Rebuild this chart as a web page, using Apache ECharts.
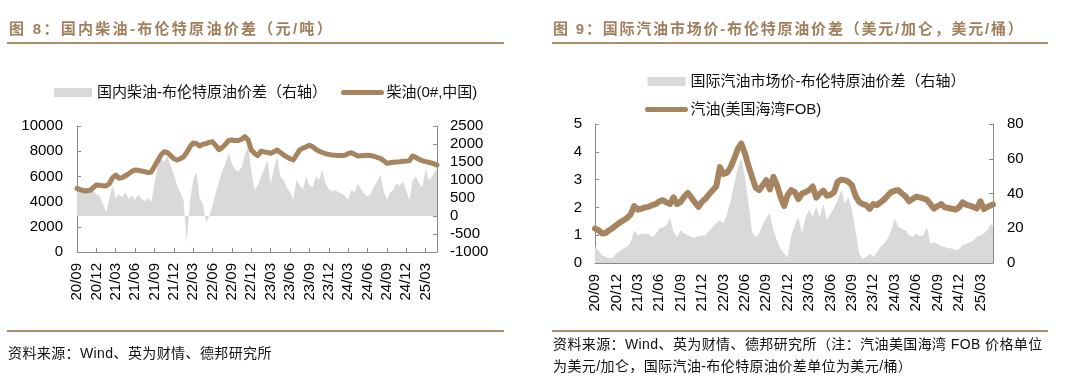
<!DOCTYPE html>
<html><head><meta charset="utf-8">
<script src="https://cdn.jsdelivr.net/npm/echarts@6.0.0/dist/echarts.min.js"></script>
<style>
html,body{margin:0;padding:0;background:#fff;width:1080px;height:382px;overflow:hidden}
#chart{position:absolute;left:0;top:0;width:1080px;height:382px}
.t{position:absolute;font-family:'Liberation Sans','Noto Sans CJK SC',sans-serif;white-space:nowrap}
.title{font-size:15px;font-weight:bold;color:#a07f5c;line-height:18px}
.rule{position:absolute;height:2px;background:#aa8d6d}
.src{font-size:14px;color:#111;letter-spacing:0.4px;line-height:22px}
</style></head>
<body>
<div id="chart"></div>
<div class="t title" style="left:9px;top:20px;letter-spacing:2.3px">图 8：国内柴油-布伦特原油价差（元/吨）</div>
<div class="rule" style="left:7px;top:42px;width:497px"></div>
<div class="t title" style="left:553px;top:20px;letter-spacing:1.8px">图 9：国际汽油市场价-布伦特原油价差（美元/加仑，美元/桶）</div>
<div class="rule" style="left:552px;top:42px;width:496px"></div>
<div class="rule" style="left:7px;top:330px;width:497px"></div>
<div class="rule" style="left:552px;top:330px;width:496px"></div>
<div class="t src" style="left:8px;top:342px">资料来源：Wind、英为财情、德邦研究所</div>
<div class="t src" style="left:553px;top:333px">资料来源：Wind、英为财情、德邦研究所（注：汽油美国海湾 FOB 价格单位<br>为美元/加仑，国际汽油-布伦特原油价差单位为美元/桶）</div>
<script>
// ---- dates: semi-monthly observations from 2020-09-01, last on 2025-04-24
const dates = [];
for (let i = 0; i < 112; i++) {
  const mi = 8 + Math.floor(i / 2);
  const y = 2020 + Math.floor(mi / 12), m = (mi % 12) + 1;
  dates.push(y + '-' + String(m).padStart(2, '0') + '-' + (i % 2 ? '16' : '01'));
}
dates.push('2025-04-24');

// ---- 图8: 柴油(0#,中国) 元/吨 (left axis)
const dieselCN = [5050,4950,4880,4840,4900,5100,5320,5300,5250,5240,
5400,5900,6100,5850,5900,6050,6200,6400,6510,6480,
6430,6380,6300,6350,6800,7250,7700,7960,7900,7650,
7400,7300,7400,7550,7900,8360,8650,8600,8420,8550,
8600,8700,8750,8450,8120,8300,8550,8850,8890,8840,
8850,8950,9150,8900,8100,7830,7650,8000,7950,7900,
7830,7950,8100,7900,7700,7550,7400,7300,7700,8100,
8250,8350,8480,8350,8150,8000,7900,7800,7750,7700,
7680,7650,7650,7680,7800,7880,7750,7620,7640,7660,
7670,7650,7600,7500,7430,7250,7050,7080,7120,7150,
7170,7200,7210,7250,7620,7500,7350,7250,7170,7120,
7050,6950,6900];
// ---- 图8: 国内柴油-布伦特原油价差 元/吨 (right axis)
const spreadCN = [650,750,700,780,650,720,600,560,350,120,
450,850,500,600,520,650,480,560,450,600,
480,420,500,380,900,1400,1600,1500,1650,1400,
1150,850,650,450,-750,400,1000,1230,500,350,
-200,0,300,650,950,1250,1450,1750,1450,1300,
1230,1350,1700,1950,1250,720,850,1100,1300,1550,
900,1300,1650,1100,1000,800,650,480,1000,850,
750,1100,850,800,1100,1000,1280,900,750,680,
720,650,630,550,450,720,650,900,750,620,
540,600,820,950,1140,700,450,650,720,900,
850,950,700,450,1000,1100,900,800,1320,1000,
1100,1250,1320];
// ---- 图9: 汽油(美国海湾FOB) 美元/加仑 (left axis)
const gasUS = [1.24,1.18,1.06,1.08,1.18,1.26,1.36,1.46,1.54,1.62,
1.75,2.05,1.92,1.95,2.00,2.02,2.08,2.12,2.22,2.26,
2.18,2.12,2.36,2.12,2.20,2.38,2.52,2.36,2.18,2.02,
2.20,2.32,2.48,2.62,2.76,3.45,3.20,3.25,3.45,3.75,
4.10,4.30,3.95,3.50,3.10,2.72,2.62,2.80,2.98,2.65,
3.10,2.80,2.38,2.05,2.45,2.62,2.55,2.30,2.50,2.55,
2.62,2.75,2.35,2.50,2.60,2.42,2.45,2.55,2.92,3.00,
2.98,2.92,2.80,2.42,2.20,2.12,2.08,1.95,2.12,2.08,
2.18,2.28,2.42,2.55,2.60,2.62,2.50,2.40,2.22,2.30,
2.38,2.36,2.32,2.28,2.12,1.96,2.05,2.12,2.00,1.98,
1.95,1.92,2.00,2.18,2.10,2.06,2.02,1.96,2.22,1.94,
2.02,2.08,2.10];
// ---- 图9: 国际汽油市场价-布伦特原油价差 美元/桶 (right axis)
const spreadGas = [9.5,7,4.4,3.5,2.8,3.2,5.4,7,8.3,9.5,
12,18.8,16,17,16.5,17,15,16.5,19.8,20.5,
21.7,26,18,15,18.8,17,16,15,14.5,15.4,
15.8,16,18.5,20.8,23,24.6,22.7,28,36,45,
55,60,50,35,18,15,17,22,26,28.5,
18.8,13,8,5.4,3.5,16,22,26.5,17,26,
30.4,26.5,32.3,26.5,34.2,24.6,28,32,36.2,42,
34.2,38,30.4,18.8,5.4,2.5,3.5,5.4,3.5,6,
9.2,11.2,14,18.8,25.6,20.8,19.5,18.8,16,15,
17,15.5,16,20.8,11.2,12,11,9.8,9.2,8.5,
8.3,7.3,8,10.2,11,12,13,15,16,17,
19,22.7,20.8];

const yLeft1 = {min:0, max:10000, interval:2000};
const yRight1 = {min:-1000, max:2500, interval:500};
const yLeft2 = {min:0, max:5, interval:1};
const yRight2 = {min:0, max:80, interval:20};

const names = ['国内柴油-布伦特原油价差（右轴）','柴油(0#,中国)','国际汽油市场价-布伦特原油价差（右轴）','汽油(美国海湾FOB)'];

function monthIdx(d) {
  const [y, m, dd] = d.split('-').map(Number);
  return (y - 2020) * 12 + (m - 9) + (dd - 1) / 30;
}
const xs = dates.map(monthIdx);
const pair = arr => arr.map((v, i) => [xs[i], v]);
const xMax = xs[xs.length - 1];

const FONT = "'Liberation Sans','Noto Sans CJK SC',sans-serif";
const AX = '#8a8a8a';
const BROWN = '#a5845f';
const GREY = '#d9d9d9';

function xAxis(gi) {
  return {
    type:'value', gridIndex:gi, min:0, max:xMax, interval:3,
    axisLine:{show:true, lineStyle:{color:AX}},
    axisTick:{show:true, inside:true, length:4, lineStyle:{color:AX}},
    splitLine:{show:false},
    axisLabel:{rotate:90, margin:11, fontSize:15, color:'#000', fontFamily:FONT, showMaxLabel:false,
      formatter: v => {
        if (Math.abs(v / 3 - Math.round(v / 3)) > 1e-6) return '';
        const mi = 8 + Math.round(v);
        const y = 20 + Math.floor(mi / 12), m = (mi % 12) + 1;
        return y + '/' + String(m).padStart(2, '0');
      }}
  };
}
function yAxis(gi, cfg, pos, margin) {
  return Object.assign({
    type:'value', gridIndex:gi, position:pos,
    axisLine:{show:true, lineStyle:{color:AX}},
    axisTick:{show:true, inside:true, length:4, lineStyle:{color:AX}},
    splitLine:{show:false},
    axisLabel:{fontSize:15, color:'#000', fontFamily:FONT, margin:margin, formatter: v => String(v)}
  }, cfg);
}
const lineLegend = name => ({name:name, itemStyle:{opacity:0}, lineStyle:{width:5, color:BROWN}});

const chart = echarts.init(document.getElementById('chart'), null, {renderer:'canvas'});
chart.setOption({
  animation:false,
  textStyle:{fontFamily:FONT},
  grid:[
    {left:77, top:126, width:360, height:126},
    {left:595, top:124, width:398, height:139}
  ],
  xAxis:[xAxis(0), xAxis(1)],
  yAxis:[
    yAxis(0, yLeft1, 'left', 14),
    yAxis(0, yRight1, 'right', 13),
    yAxis(1, yLeft2, 'left', 13),
    yAxis(1, yRight2, 'right', 14)
  ],
  legend:[
    {left:49, top:80, itemWidth:38, itemHeight:9, itemGap:14, itemTextGap:7,
     textStyle:{fontSize:15, color:'#111', fontFamily:FONT},
     data:[{name:names[0], icon:'rect'}, lineLegend(names[1])]},
    {left:640, top:69, orient:'vertical', itemWidth:38, itemHeight:9, itemGap:13, itemTextGap:7,
     textStyle:{fontSize:15, color:'#111', fontFamily:FONT},
     data:[{name:names[2], icon:'rect'}, lineLegend(names[3])]}
  ],
  series:[
    {name:names[0], type:'line', xAxisIndex:0, yAxisIndex:1, data:pair(spreadCN), symbol:'none',
     lineStyle:{width:0}, itemStyle:{color:GREY}, areaStyle:{color:GREY, opacity:1}, z:1},
    {name:names[1], type:'line', xAxisIndex:0, yAxisIndex:0, data:pair(dieselCN), symbol:'none',
     lineStyle:{width:5, color:BROWN, cap:'round', join:'round'}, itemStyle:{color:BROWN}, z:3},
    {name:names[2], type:'line', xAxisIndex:1, yAxisIndex:3, data:pair(spreadGas), symbol:'none',
     lineStyle:{width:0}, itemStyle:{color:GREY}, areaStyle:{color:GREY, opacity:1}, z:1},
    {name:names[3], type:'line', xAxisIndex:1, yAxisIndex:2, data:pair(gasUS), symbol:'none',
     lineStyle:{width:6, color:BROWN, cap:'round', join:'round'}, itemStyle:{color:BROWN}, z:3}
  ]
});
</script>
</body></html>
